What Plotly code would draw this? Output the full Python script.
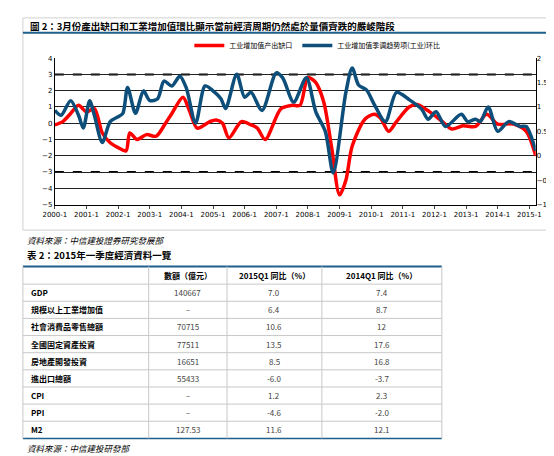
import plotly.graph_objects as go

W, H = 554, 456
def px(x): return x / W
def py(y): return 1 - y / H

red_x = [2000.0,2000.25,2000.5,2000.75,2001.0,2001.25,2001.5,2001.75,2002.0,2002.25,2002.37,2002.6,2002.9,2003.2,2003.5,2003.7,2004.05,2004.25,2004.5,2004.9,2005.1,2005.3,2005.5,2005.9,2006.2,2006.4,2006.65,2007.15,2007.5,2007.75,2008.0,2008.25,2008.5,2008.75,2009.0,2009.2,2009.4,2009.8,2010.1,2010.3,2010.55,2010.8,2011.2,2011.45,2011.85,2012.25,2012.55,2012.9,2013.3,2013.65,2014.0,2014.5,2014.9,2015.2]
red_y = [-0.1,0.1,0.6,1.1,0.7,0.9,-0.6,-1.2,-1.5,-1.7,-0.6,-1.0,-0.7,-0.8,0.0,0.6,1.6,0.8,-0.3,0.1,0.2,0.0,-0.9,0.1,-0.1,-0.3,-1.0,0.9,1.1,1.1,2.8,2.5,1.3,-1.5,-4.4,-3.5,-1.4,0.25,0.55,0.3,-0.5,0.1,1.0,1.15,0.7,0.1,-0.35,-0.15,-0.2,0.55,-0.05,-0.05,-0.5,-2.0]

blue_x = [2000.0,2000.2,2000.5,2000.75,2000.9,2001.1,2001.25,2001.5,2001.75,2002.0,2002.15,2002.3,2002.55,2002.8,2003.0,2003.25,2003.45,2003.7,2003.95,2004.15,2004.45,2004.75,2005.0,2005.25,2005.4,2005.75,2006.0,2006.2,2006.55,2007.0,2007.2,2007.55,2007.95,2008.25,2008.55,2008.8,2009.2,2009.4,2009.6,2009.85,2010.1,2010.45,2010.8,2011.2,2011.6,2011.8,2012.05,2012.35,2012.85,2013.05,2013.3,2013.45,2013.7,2014.0,2014.35,2014.7,2014.9,2015.2]
blue_y = [0.93,0.83,1.13,0.83,0.57,1.13,0.83,0.27,0.7,0.8,0.87,1.4,0.87,1.33,1.13,1.17,1.53,1.43,1.63,1.4,0.67,1.43,1.33,1.17,0.97,1.67,1.2,1.3,0.93,1.7,1.6,1.1,1.6,0.9,0.5,-0.35,1.3,1.8,1.45,1.35,1.05,0.7,1.3,1.15,0.95,0.75,0.9,0.6,0.85,0.7,0.75,0.7,1.0,0.5,0.7,0.6,0.6,0.1]

years = list(range(2000, 2016))
year_labels = [f"{y}-1" for y in years]
left_ticks = [-5,-4,-3,-2,-1,0,1,2,3,4]
right_ticks = [-1,-0.5,0,0.5,1,1.5,2]

red_name = "工业增加值产出缺口"
blue_name = "工业增加值季调趋势项(工业)环比"

tbl_header = ["", "數額（億元）", "2015Q1 同比（%）", "2014Q1 同比（%）"]
tbl_names = ["GDP", "規模以上工業增加值", "社會消費品零售總額", "全國固定資產投資", "房地產開發投資", "進出口總額", "CPI", "PPI", "M2"]
tbl_amount = ["140667", "–", "70715", "77511", "16651", "55433", "–", "–", "127.53"]
tbl_2015 = ["7.0", "6.4", "10.6", "13.5", "8.5", "-6.0", "1.2", "-4.6", "11.6"]
tbl_2014 = ["7.4", "8.7", "12", "17.6", "16.8", "-3.7", "2.3", "-2.0", "12.1"]

FONT = "Noto Sans CJK TC"
fig = go.Figure()
fig.add_trace(go.Scatter(x=red_x, y=red_y, mode="lines", name=red_name,
    line=dict(color="#ff0000", width=3.5, shape="spline", smoothing=0.8), yaxis="y"))
fig.add_trace(go.Scatter(x=blue_x, y=blue_y, mode="lines", name=blue_name,
    line=dict(color="#0d4f7a", width=3.5, shape="spline", smoothing=0.8), yaxis="y2"))

shapes = [
    dict(type="rect", xref="paper", yref="paper", x0=px(3), x1=px(550), y0=py(222), y1=py(6), line=dict(color="#d0d0d0", width=1)),
    dict(type="line", xref="paper", yref="paper", x0=px(3), x1=px(550), y0=py(21), y1=py(21), line=dict(color="#1f5f8b", width=2)),
]
for v in (3, -3):
    shapes.append(dict(type="line", xref="paper", yref="y", x0=px(36), x1=px(533), y0=v, y1=v,
        line=dict(color="black", width=2, dash="dash"), layer="below"))

ann = [
    dict(x=px(8), y=py(14), xref="paper", yref="paper", text="<b>圖 2：3月份產出缺口和工業增加值環比顯示當前經濟周期仍然處於量價齊跌的嚴峻階段</b>",
         showarrow=False, xanchor="left", yanchor="middle", font=dict(family=FONT, size=9.5, color="black")),
    dict(x=px(5), y=py(232), xref="paper", yref="paper", text="<i>資料來源：中信建投證券研究發展部</i>",
         showarrow=False, xanchor="left", yanchor="middle", font=dict(family=FONT, size=8.5, color="black")),
    dict(x=px(5), y=py(247), xref="paper", yref="paper", text="<b>表 2：2015年一季度經濟資料一覽</b>",
         showarrow=False, xanchor="left", yanchor="middle", font=dict(family=FONT, size=9.5, color="black")),
    dict(x=px(5), y=py(444), xref="paper", yref="paper", text="<i>資料來源：中信建投研發部</i>",
         showarrow=False, xanchor="left", yanchor="middle", font=dict(family=FONT, size=8.5, color="black")),
]

# table drawn with shapes + annotations
col_edges = [3, 133, 214, 312, 436]
top, head_bot, bottom = 259, 277, 434
nrows = len(tbl_names)
rh = (bottom - head_bot) / nrows
row_edges = [head_bot + i * rh for i in range(nrows + 1)]
shapes.append(dict(type="line", xref="paper", yref="paper", x0=px(3), x1=px(436), y0=py(top), y1=py(top), line=dict(color="#1f5f8b", width=2)))
shapes.append(dict(type="line", xref="paper", yref="paper", x0=px(3), x1=px(436), y0=py(bottom), y1=py(bottom), line=dict(color="#1f5f8b", width=1.5)))
for ry in row_edges[:-1]:
    shapes.append(dict(type="line", xref="paper", yref="paper", x0=px(3), x1=px(436), y0=py(ry), y1=py(ry), line=dict(color="#c8c8c8", width=1)))
for cx in col_edges:
    shapes.append(dict(type="line", xref="paper", yref="paper", x0=px(cx), x1=px(cx), y0=py(top), y1=py(bottom), line=dict(color="#c8c8c8", width=1)))

def cell(text, c, ycen, bold=False, color="#333", left=False):
    x = px(col_edges[c] + 6) if left else px((col_edges[c] + col_edges[c + 1]) / 2)
    ann.append(dict(x=x, y=py(ycen), xref="paper", yref="paper", text=f"<b>{text}</b>" if bold else text,
        showarrow=False, xanchor="left" if left else "center", yanchor="middle",
        font=dict(family=FONT, size=8, color=color)))

for c, h in enumerate(tbl_header):
    if h:
        cell(h, c, (top + head_bot) / 2, bold=True, color="black")
cols = [tbl_names, tbl_amount, tbl_2015, tbl_2014]
for i in range(nrows):
    yc = (row_edges[i] + row_edges[i + 1]) / 2
    for c, col in enumerate(cols):
        cell(col[i], c, yc, bold=(c == 0), color="black" if c == 0 else "#444", left=(c == 0))

fig.update_layout(
    width=W, height=H, margin=dict(l=0, r=0, t=0, b=0), paper_bgcolor="white", plot_bgcolor="white",
    showlegend=True, shapes=shapes, annotations=ann,
    legend=dict(orientation="h", x=px(175), y=py(34), xanchor="left", yanchor="middle",
        font=dict(family=FONT, size=7, color="black"), itemwidth=30, bgcolor="rgba(0,0,0,0)"),
    xaxis=dict(domain=[px(36), px(533)], range=[2000, 2015.2], tickmode="array", tickvals=years, ticktext=year_labels,
        showgrid=False, showline=True, linecolor="black", ticks="outside", ticklen=3,
        tickfont=dict(family="DejaVu Sans", size=7, color="black"), zeroline=False, anchor="y"),
    yaxis=dict(domain=[py(196), py(47)], range=[-5, 4], tickvals=left_ticks, showgrid=True, gridcolor="#222", gridwidth=1,
        zeroline=False, showline=True, linecolor="black", mirror=True,
        tickfont=dict(family="DejaVu Sans", size=7, color="black")),
    yaxis2=dict(overlaying="y", side="right", range=[-1, 2], tickvals=right_ticks, showgrid=False, zeroline=False,
        tickfont=dict(family="DejaVu Sans", size=7, color="black"), anchor="x"),
)
fig.write_html("out.html")
